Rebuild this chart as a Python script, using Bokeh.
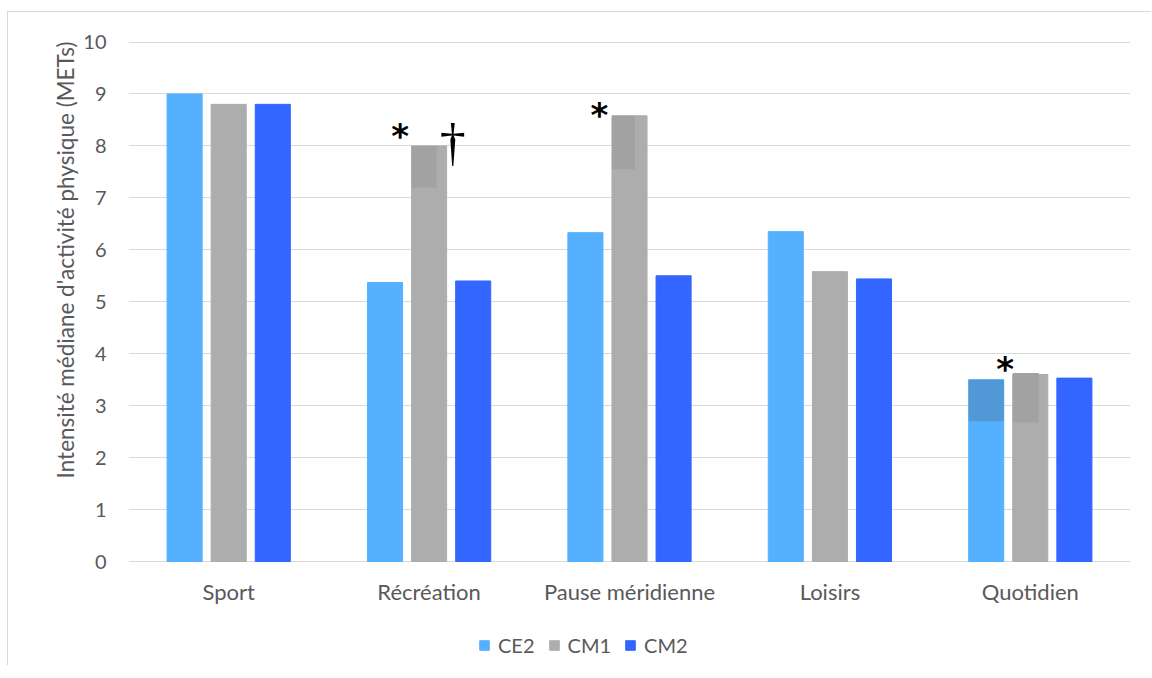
from bokeh.plotting import figure
from bokeh.models import (ColumnDataSource, FactorRange, Range1d, Legend, LegendItem,
                          FixedTicker, Title)
from bokeh.transform import dodge
from bokeh.core.properties import value
from bokeh.embed import file_html
from bokeh.resources import INLINE

categories = ["Sport", "Récréation", "Pause méridienne", "Loisirs", "Quotidien"]
series = ["CE2", "CM1", "CM2"]
ce2 = [9.0, 5.37, 6.33, 6.35, 3.50]
cm1 = [8.8, 8.0, 8.58, 5.58, 3.60]
cm2 = [8.8, 5.40, 5.50, 5.44, 3.53]
colors = ["#55b1ff", "#adadad", "#3366ff"]
y_ticks = [0, 1, 2, 3, 4, 5, 6, 7, 8, 9, 10]
y_title = "Intensité médiane d'activité physique (METs)"

# darker overlay boxes seen in the original (category, series, bottom, top)
ov_cat = ["Récréation", "Pause méridienne", "Quotidien", "Quotidien"]
ov_series = ["CM1", "CM1", "CE2", "CM1"]
ov_bottom = [7.2, 7.55, 2.7, 2.68]
ov_top = [8.0, 8.58, 3.5, 3.63]
ov_frac = [0.72, 0.66, 1.0, 0.74]
ov_color = ["#a2a2a2", "#a2a2a2", "#5398d6", "#a2a2a2"]

# significance marks
mark_cat = ["Récréation", "Récréation", "Pause méridienne", "Quotidien"]
mark_text = ["*", "†", "*", "*"]
mark_y = [8.3, 8.1, 8.72, 3.82]
mark_off = [-0.145, 0.118, -0.15, -0.125]

FONT = "Lato"
GREY = "#595959"
W = 0.175
OFF = 0.22

p = figure(x_range=FactorRange(*categories, range_padding=0), y_range=Range1d(-2.002, 10.01),
           frame_width=1002, frame_height=624, output_backend="svg", toolbar_location=None,
           min_border_left=120, min_border_right=21, min_border_top=29, min_border_bottom=0)
p.outline_line_color = None
p.background_fill_color = "white"
p.styles = {"border-left": "1px solid #d9d9d9", "border-top": "1px solid #d9d9d9",
            "margin-left": "7px", "margin-top": "11px"}

src = ColumnDataSource(dict(cat=categories, CE2=ce2, CM1=cm1, CM2=cm2,
                            zero=[0] * len(categories)))
items = []
for i, s in enumerate(series):
    r = p.vbar(x=dodge("cat", (i - 1) * OFF, range=p.x_range), top=s, width=W, source=src,
               fill_color=colors[i], line_color=colors[i], line_width=1)
    items.append(LegendItem(label=s, renderers=[r]))

for c, s, b, t, f, col in zip(ov_cat, ov_series, ov_bottom, ov_top, ov_frac, ov_color):
    i = series.index(s)
    left_off = (i - 1) * OFF - W / 2
    w = W * f
    osrc = ColumnDataSource(dict(cat=[c], b=[b], t=[t]))
    p.vbar(x=dodge("cat", left_off + w / 2, range=p.x_range), bottom="b", top="t", width=w,
           source=osrc, fill_color=col, line_color=None)

for c, txt, y, o in zip(mark_cat, mark_text, mark_y, mark_off):
    msrc = ColumnDataSource(dict(cat=[c], y=[y], t=[txt]))
    big = txt == "†"
    p.text(x=dodge("cat", o, range=p.x_range), y="y", text="t", source=msrc,
           text_font=value("Liberation Serif" if big else "DejaVu Sans"),
           text_font_size="52px" if big else "34px",
           text_font_style="normal" if big else "bold", text_color="black",
           text_align="center", text_baseline="middle", y_offset=2 if big else 6)

# category labels under the zero line
p.text(x="cat", y="zero", text="cat", source=src, text_font=value(FONT),
       text_font_size="22px", text_color=GREY, text_align="center",
       text_baseline="middle", y_offset=30)

p.xaxis.visible = False
p.xgrid.grid_line_color = None
p.ygrid.grid_line_color = "#d9d9d9"
p.ygrid.grid_line_width = 1
p.yaxis.ticker = FixedTicker(ticks=y_ticks)
p.yaxis.axis_line_color = None
p.yaxis.major_tick_line_color = None
p.yaxis.major_tick_out = 0
p.yaxis.minor_tick_line_color = None
p.yaxis.minor_tick_out = 0
p.yaxis.major_label_text_font = FONT
p.yaxis.major_label_text_font_size = "20px"
p.yaxis.major_label_text_color = GREY
p.yaxis.major_label_standoff = 22

p.add_layout(Title(text=y_title, align="right", offset=0, text_font=FONT,
                   text_font_size="22.5px", text_font_style="normal", text_color=GREY,
                   standoff=4), "left")

legend = Legend(items=items, orientation="horizontal", location=(350, 8),
                label_text_font=FONT, label_text_font_size="20px", label_text_color=GREY,
                glyph_width=12, glyph_height=12, label_standoff=8, spacing=13,
                border_line_color=None, background_fill_alpha=0, margin=0, padding=0)
p.add_layout(legend, "center")

open("out.html", "w").write(file_html(p, INLINE))
